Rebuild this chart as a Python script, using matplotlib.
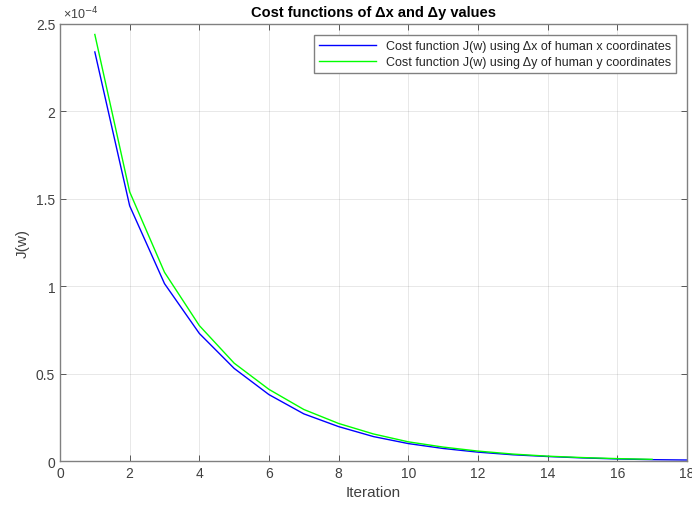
import matplotlib.pyplot as plt
from matplotlib.ticker import FuncFormatter

plt.rcParams['font.family'] = ['Liberation Sans', 'DejaVu Sans']

iterations_x = list(range(1, 19))
cost_dx = [2.34e-4, 1.46e-4, 1.015e-4, 0.73e-4, 0.53e-4, 0.38e-4, 0.27e-4, 0.197e-4, 0.14e-4,
           0.10e-4, 0.072e-4, 0.051e-4, 0.036e-4, 0.026e-4, 0.018e-4, 0.012e-4, 0.008e-4, 0.006e-4]
iterations_y = list(range(1, 18))
cost_dy = [2.44e-4, 1.54e-4, 1.08e-4, 0.775e-4, 0.56e-4, 0.41e-4, 0.295e-4, 0.215e-4, 0.155e-4,
           0.11e-4, 0.08e-4, 0.057e-4, 0.04e-4, 0.028e-4, 0.02e-4, 0.014e-4, 0.01e-4]

labels = ['Cost function J(w) using \u0394x of human x coordinates',
          'Cost function J(w) using \u0394y of human y coordinates']

fig = plt.figure(figsize=(6.92, 5.10), dpi=100)
ax = fig.add_axes([0.0867, 0.094, 0.906, 0.857])

ax.plot(iterations_x, cost_dx, color='#0000FF', lw=1, label=labels[0])
ax.plot(iterations_y, cost_dy, color='#00FF00', lw=1, label=labels[1])

ax.set_xlim(0, 18)
ax.set_ylim(0, 2.5e-4)
ax.set_xticks(range(0, 19, 2))
ax.set_yticks([0, 0.5e-4, 1e-4, 1.5e-4, 2e-4, 2.5e-4])
ax.yaxis.set_major_formatter(FuncFormatter(lambda v, p: '%g' % round(v / 1e-4, 2)))

ax.grid(True, color='#262626', alpha=0.12, lw=0.6)
ax.tick_params(direction='in', top=True, right=True, colors='#404040',
               labelsize=10, length=4, width=0.6)
for s in ax.spines.values():
    s.set_color('#808080')
    s.set_linewidth(1)

ax.text(0.005, 1.006, '\u00d710$^{-4}$', transform=ax.transAxes, fontsize=9,
        color='#404040', ha='left', va='bottom')

ax.set_xlabel('Iteration', fontsize=11, color='#404040')
ax.set_ylabel('J(w)', fontsize=11, color='#404040')
ax.set_title('Cost functions of \u0394x and \u0394y values', fontsize=10.5,
             fontweight='bold', pad=6)

leg = ax.legend(loc='upper right', fontsize=9, fancybox=False, framealpha=1,
                edgecolor='#808080', borderaxespad=0.9, handlelength=4.5,
                labelspacing=0.3, borderpad=0.4)
leg.get_frame().set_linewidth(1)
for t in leg.get_texts():
    t.set_color('#262626')

fig.savefig('out.png', dpi=100)
